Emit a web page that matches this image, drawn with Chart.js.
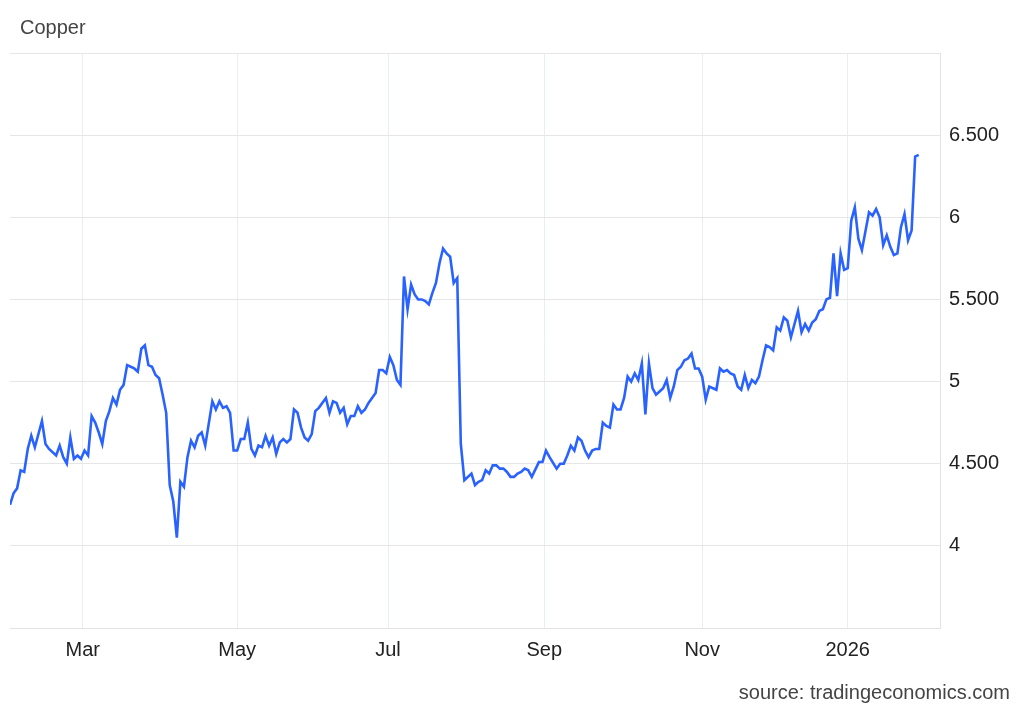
<!DOCTYPE html>
<html>
<head>
<meta charset="utf-8">
<script src="https://cdn.jsdelivr.net/npm/chart.js@4"></script>
<style>
  body { margin: 0; background: #fff; font-family: "Liberation Sans", Arial, sans-serif; }
  #wrap { position: relative; width: 1024px; height: 710px; }
  #title { position: absolute; left: 20px; top: 16px; font-size: 20px; line-height: 22px; color: #444; }
  #source { position: absolute; right: 14px; top: 681px; font-size: 20px; line-height: 22px; color: #444; }
  canvas { position: absolute; left: 0; top: 0; }
</style>
</head>
<body>
<div id="wrap">
  <canvas id="copperChart" width="1024" height="710"></canvas>
  <div id="title">Copper</div>
  <div id="source">source: tradingeconomics.com</div>
</div>
<script>
// Copper futures, trading-day index (0 = first day, early Feb 2025) and price in USD/lb
const tradingDay = [
  0, 1, 2, 3, 4, 5, 6, 7, 9, 10, 11, 13, 14, 15, 16, 17, 18, 19, 20, 21,
  22, 23, 24, 25, 26, 27, 28, 29, 30, 31, 32, 33, 34, 35, 36, 37, 38, 39, 40, 41,
  42, 43, 44, 45, 46, 47, 48, 49, 50, 51, 52, 53, 54, 55, 57, 58, 59, 60, 61, 62,
  63, 64, 65, 66, 67, 68, 69, 70, 71, 72, 73, 74, 75, 76, 77, 78, 79, 80, 81, 82,
  83, 84, 85, 86, 87, 89, 90, 91, 92, 93, 94, 95, 96, 97, 98, 99, 100, 101, 102, 103,
  104, 105, 106, 107, 108, 109, 110, 111, 112, 113, 114, 115, 116, 117, 118, 119, 120, 121, 122, 123,
  124, 125, 126, 127, 128, 130, 131, 132, 133, 134, 135, 136, 137, 138, 139, 140, 141, 142, 143, 144,
  145, 146, 147, 149, 150, 151, 152, 154, 155, 156, 157, 158, 159, 160, 161, 162, 163, 164, 165, 166,
  167, 168, 169, 170, 171, 172, 173, 174, 175, 176, 177, 178, 179, 180, 181, 182, 183, 184, 185, 186,
  187, 188, 189, 190, 191, 192, 193, 194, 195, 196, 197, 199, 200, 201, 202, 203, 204, 205, 206, 207,
  208, 209, 210, 211, 212, 213, 214, 215, 216, 217, 218, 219, 220, 222, 223, 224, 225, 226, 227, 228,
  229, 230, 231, 232, 233, 234, 235, 236, 237, 238, 239, 240, 242, 243, 244, 245, 246, 247, 248, 249,
  250, 251, 252, 253, 254, 255, 256
];
const price = [
  4.25, 4.32, 4.35, 4.46, 4.45, 4.59, 4.67, 4.60, 4.76, 4.62, 4.59, 4.55, 4.61, 4.54, 4.50, 4.66, 4.53, 4.55, 4.53, 4.58,
  4.55, 4.79, 4.75, 4.69, 4.62, 4.76, 4.82, 4.90, 4.86, 4.95, 4.98, 5.10, 5.09, 5.08, 5.06, 5.20, 5.22, 5.10, 5.09, 5.04,
  5.02, 4.92, 4.81, 4.37, 4.27, 4.05, 4.39, 4.36, 4.54, 4.64, 4.60, 4.67, 4.69, 4.61, 4.88, 4.83, 4.88, 4.84, 4.85, 4.81,
  4.58, 4.58, 4.65, 4.65, 4.75, 4.59, 4.55, 4.61, 4.60, 4.67, 4.61, 4.66, 4.56, 4.63, 4.65, 4.63, 4.65, 4.83, 4.81, 4.72,
  4.66, 4.64, 4.68, 4.82, 4.84, 4.90, 4.81, 4.88, 4.87, 4.81, 4.84, 4.74, 4.79, 4.79, 4.85, 4.81, 4.83, 4.87, 4.90, 4.93,
  5.07, 5.07, 5.05, 5.15, 5.10, 5.01, 4.98, 5.64, 5.44, 5.59, 5.53, 5.50, 5.50, 5.49, 5.47, 5.54, 5.60, 5.72, 5.81, 5.78,
  5.76, 5.60, 5.63, 4.62, 4.40, 4.44, 4.37, 4.39, 4.40, 4.46, 4.44, 4.49, 4.49, 4.47, 4.47, 4.45, 4.42, 4.42, 4.44, 4.45,
  4.47, 4.46, 4.42, 4.51, 4.51, 4.58, 4.54, 4.47, 4.50, 4.50, 4.55, 4.61, 4.58, 4.66, 4.64, 4.58, 4.54, 4.58, 4.59, 4.59,
  4.75, 4.73, 4.72, 4.86, 4.83, 4.83, 4.90, 5.03, 5.00, 5.05, 5.01, 5.11, 4.80, 5.11, 4.96, 4.92, 4.94, 4.96, 5.01, 4.90,
  4.97, 5.07, 5.09, 5.13, 5.14, 5.17, 5.08, 5.08, 5.03, 4.89, 4.97, 4.95, 5.08, 5.06, 5.07, 5.05, 5.04, 4.97, 4.95, 5.04,
  4.96, 5.01, 4.99, 5.03, 5.13, 5.22, 5.21, 5.19, 5.33, 5.31, 5.39, 5.37, 5.27, 5.43, 5.30, 5.35, 5.31, 5.36, 5.38, 5.43,
  5.44, 5.50, 5.51, 5.78, 5.52, 5.78, 5.68, 5.69, 5.98, 6.06, 5.87, 5.80, 6.03, 6.01, 6.05, 6.00, 5.83, 5.89, 5.82, 5.77,
  5.78, 5.94, 6.02, 5.86, 5.92, 6.37, 6.38
];

// month ticks (trading-day index of the first session in that month)
const xTickPos = [20.5, 64, 106.5, 150.5, 195, 236];
const xTickLabels = ["Mar", "May", "Jul", "Sep", "Nov", "2026"];

const yTickValues = [3.5, 4, 4.5, 5, 5.5, 6, 6.5, 7];
const yTickLabels = ["", "4", "4.500", "5", "5.500", "6", "6.500", ""];

const points = tradingDay.map((d, i) => ({ x: d, y: price[i] }));
const tickFont = { family: '"Liberation Sans", Arial, sans-serif', size: 20 };

new Chart(document.getElementById("copperChart").getContext("2d"), {
  type: "line",
  data: {
    datasets: [{
      data: points,
      borderColor: "#2962ff",
      borderWidth: 2.6,
      pointRadius: 0,
      tension: 0,
      fill: false
    }]
  },
  options: {
    responsive: false,
    animation: false,
    devicePixelRatio: 1,
    layout: { padding: { left: 10, top: 53, right: 0, bottom: 42 } },
    plugins: { legend: { display: false }, tooltip: { enabled: false } },
    scales: {
      x: {
        type: "linear",
        min: 0,
        max: 262,
        afterBuildTicks: s => { s.ticks = xTickPos.map(v => ({ value: v })); },
        afterFit: s => { s.height = 40; },
        ticks: {
          autoSkip: false,
          maxRotation: 0,
          padding: 10,
          color: "#222",
          font: tickFont,
          callback: v => xTickLabels[xTickPos.indexOf(v)]
        },
        grid: { color: "#e8eef4", drawTicks: false },
        border: { color: "#e3e3e3" }
      },
      y: {
        position: "right",
        min: 3.5,
        max: 7,
        afterBuildTicks: s => { s.ticks = yTickValues.map(v => ({ value: v })); },
        afterFit: s => { s.width = 84; },
        ticks: {
          padding: 9,
          color: "#222",
          font: tickFont,
          callback: v => yTickLabels[yTickValues.indexOf(v)]
        },
        grid: { color: "#e6e6e6", drawTicks: false },
        border: { color: "#e3e3e3" }
      }
    }
  }
});
</script>
</body>
</html>
